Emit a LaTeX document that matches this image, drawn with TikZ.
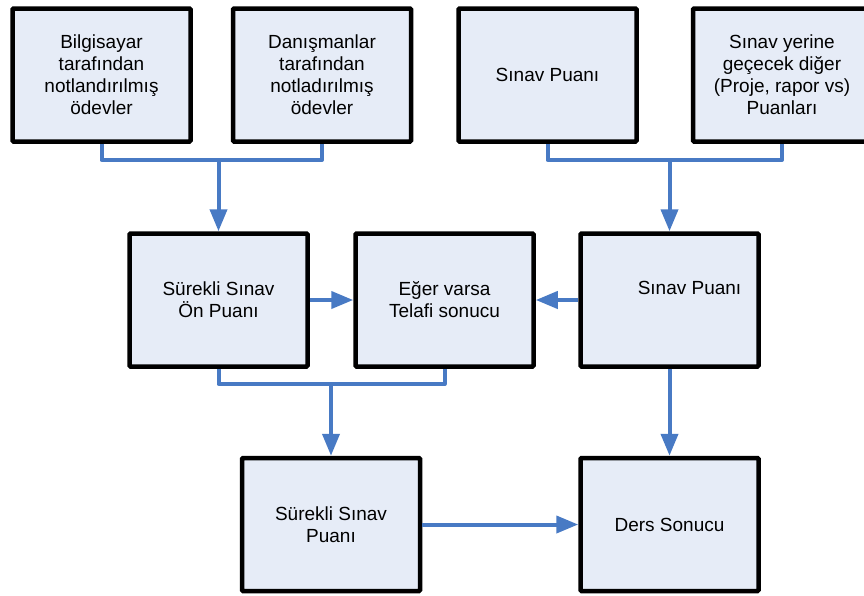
\documentclass[tikz,border=0pt]{standalone}
\usepackage{fontspec}
\setmainfont{Liberation Sans}
\usetikzlibrary{arrows.meta}
\definecolor{boxfill}{RGB}{230,236,247}
\definecolor{arrblue}{RGB}{72,122,196}

\begin{document}
\begin{tikzpicture}[%
    x=1pt,y=-1pt,font=\fontsize{19}{22}\selectfont,
    box/.style={draw,line width=4.5pt,fill=boxfill,rounded corners=1pt,
      minimum width=178pt,minimum height=133pt,align=center},
    bus/.style={draw=arrblue,line width=4pt,line join=round},
    arr/.style={bus,-{Triangle[length=22pt,width=17pt]}}
  ]
		\clip (0,0) rectangle (864,595);
		\useasboundingbox (0,0) rectangle (864,595);

		% top row
		\node at (101.5,75) [box] (bilg) {Bilgisayar\\tarafından\\notlandırılmış\\ödevler};
		\node at (322,75) [box] (danis) {Danışmanlar\\tarafından\\notladırılmış\\ödevler};
		\node at (547.5,75) [box] (sinav1) {Sınav Puanı};
		\node at (782,75) [box] (diger) {Sınav yerine\\geçecek diğer\\(Proje, rapor vs)\\Puanları};

		% middle row
		\node at (218.5,300) [box] (onpuan) {Sürekli Sınav\\Ön Puanı};
		\node at (444.5,300) [box] (telafi) {Eğer varsa\\Telafi sonucu};
		\node at (669.5,300) [box,label={[xshift=20pt,yshift=12pt]center:Sınav Puanı}] (sinav2) {};

		% bottom row
		\node at (331,524.5) [box] (surekli) {Sürekli Sınav\\Puanı};
		\node at (669.5,524.5) [box] (ders) {Ders Sonucu};

		\coordinate (j1) at (218.5,160);
		\coordinate (j2) at (669.5,160);
		\coordinate (j3) at (331,384);

		\draw[bus] (bilg.south) |- (j1) -| (danis.south);
		\draw[arr] (j1) -- (onpuan);
		\draw[bus] (sinav1.south) |- (j2) -| (diger.south);
		\draw[arr] (j2) -- (sinav2);

		\draw[arr] (onpuan) -- (telafi);
		\draw[arr] (sinav2) -- (telafi);

		\draw[bus] (onpuan.south) |- (j3) -| (telafi.south);
		\draw[arr] (j3) -- (surekli);
		\draw[arr] (sinav2) -- (ders);
		\draw[arr] (surekli) -- (ders);
	\end{tikzpicture}
\end{document}
